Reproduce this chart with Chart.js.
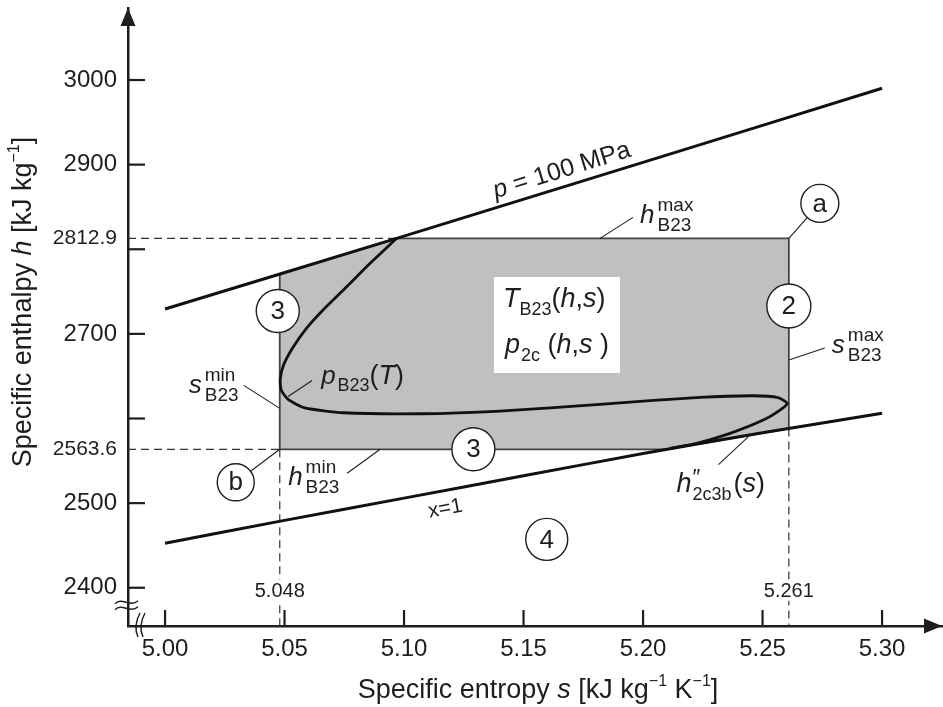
<!DOCTYPE html>
<html><head><meta charset="utf-8">
<script src="https://cdn.jsdelivr.net/npm/chart.js@4.4.1/dist/chart.umd.min.js"></script>
<style>html,body{margin:0;padding:0;background:#fff;}canvas{display:block;}</style>
</head><body>
<canvas id="c" width="943" height="707"></canvas>
<script>
// ---------- data ----------
const sAxisRange = [4.9845, 5.3255];
const hAxisRange = [2354.8, 3085.1];
const sTicks = [5.00, 5.05, 5.10, 5.15, 5.20, 5.25, 5.30];
const sTickLabels = ['5.00', '5.05', '5.10', '5.15', '5.20', '5.25', '5.30'];
const hTicks = [2400, 2500, 2563.6, 2600, 2700, 2800, 2812.9, 2900, 3000];
const hTickLabels = ['2400', '2500', '2563.6', '', '2700', '', '2812.9', '2900', '3000'];
const hSpecialTicks = [2563.6, 2812.9];
const hTickMarks = [2400, 2500, 2600, 2700, 2800, 2900, 3000];

const sMinB23 = 5.048, sMaxB23 = 5.261, hMinB23 = 2563.6, hMaxB23 = 2812.9;

// isobar p = 100 MPa
const p100S = [5.00, 5.0969, 5.20, 5.30];
const p100H = [2729.4, 2812.9, 2902.6, 2990.2];
// saturated vapour line x = 1
const x1S = [5.00, 5.05, 5.10, 5.15, 5.20, 5.25, 5.30];
const x1H = [2452.5, 2479.6, 2505.9, 2532.3, 2558.6, 2583.2, 2606.1];
// B23 boundary p_B23(T)
const b23S = [5.0969, 5.0858, 5.0760, 5.0662, 5.0590, 5.0535, 5.0497, 5.0482, 5.0486, 5.0515, 5.0585, 5.0746,
              5.1067, 5.1402, 5.1820, 5.2238, 5.2460, 5.2565, 5.2603, 5.2573, 5.2503, 5.2364, 5.2225, 5.2113];
const b23H = [2812.9, 2783.4, 2755.7, 2728.5, 2706.0, 2684.0, 2664.0, 2646.5, 2633.6, 2622.5, 2612.6, 2606.8,
              2605.6, 2608.8, 2616.8, 2625.0, 2626.9, 2624.8, 2617.9, 2610.0, 2598.2, 2582.5, 2570.7, 2564.8];
// shaded validity region of T_B23(h,s), p_2c(h,s)
const regionS = [5.048, 5.048, 5.0969, 5.261, 5.261, 5.2102, 5.048];
const regionH = [2563.6, 2770.8, 2812.9, 2812.9, 2588.2, 2563.6, 2563.6];
// dashed guide lines
const dashTopS = [sAxisRange[0], 5.0969], dashTopH = [hMaxB23, hMaxB23];
const dashBotS = [sAxisRange[0], sMinB23], dashBotH = [hMinB23, hMinB23];
const dashLeftS = [sMinB23, sMinB23], dashLeftH = [hMinB23, hAxisRange[0]];
const dashRightS = [sMaxB23, sMaxB23], dashRightH = [2588.2, hAxisRange[0]];

// ---------- helpers ----------
const pts = (S, H) => S.map((s, i) => ({x: s, y: H[i]}));
const line = (data, o) => Object.assign({data, showLine: true, pointRadius: 0, pointHoverRadius: 0,
  fill: false, tension: 0, borderColor: '#111', borderWidth: 3}, o);
const FAM = '"Liberation Sans", Arial, Helvetica, sans-serif';
const F = (sz, it) => (it ? 'italic ' : '') + sz + 'px ' + FAM;

function rich(ctx, parts, x, y, align) {
  const w = parts.map(p => {
    if (p.sup !== undefined) {
      ctx.font = F(p.supSz || p.sz || 19); const a = ctx.measureText(p.sup).width;
      ctx.font = F(p.sz || 19); const b = ctx.measureText(p.sub).width;
      return Math.max(a, b) + (p.gap || 0);
    }
    ctx.font = F(p.sz || 26, p.i); return ctx.measureText(p.t).width + (p.gap || 0);
  });
  const total = w.reduce((a, b) => a + b, 0);
  let cx = align === 'center' ? x - total / 2 : (align === 'right' ? x - total : x);
  ctx.textAlign = 'left'; ctx.textBaseline = 'alphabetic';
  parts.forEach((p, k) => {
    if (p.sup !== undefined) {
      ctx.font = F(p.supSz || p.sz || 19); ctx.fillText(p.sup, cx, y + (p.up ?? -12));
      ctx.font = F(p.sz || 19); ctx.fillText(p.sub, cx, y + (p.dn ?? 8));
    } else {
      ctx.font = F(p.sz || 26, p.i); ctx.fillText(p.t, cx, y + (p.dy || 0));
    }
    cx += w[k];
  });
}

// annotation anchors (data coordinates) with pixel offsets
const circles = [
  {lab: 'a', s: sMaxB23, h: hMaxB23, dx: 31, dy: -35, r: 19, leader: true},
  {lab: 'b', s: sMinB23, h: hMinB23, dx: -44, dy: 33, r: 18.5, leader: true},
  {lab: '3', s: sMinB23, h: 2727, dx: -2, dy: 0, r: 21.5},
  {lab: '2', s: sMaxB23, h: 2733, dx: 0, dy: 0, r: 22},
  {lab: '3', s: 5.129, h: hMinB23, dx: 0, dy: 0, r: 21.5},
  {lab: '4', s: 5.1597, h: 2457.2, dx: 0, dy: 0, r: 21}
];
const notes = [
  {s: sMinB23, h: 2612, lx: -36, ly: -23, tx: -91, ty: -15,
   parts: [{t: 's', i: true, gap: 3}, {sup: 'min', sub: 'B23'}]},
  {s: sMaxB23, h: 2669.1, lx: 36, ly: -12, tx: 43, ty: -7,
   parts: [{t: 's', i: true, gap: 3}, {sup: 'max', sub: 'B23'}]},
  {s: 5.182, h: hMaxB23, lx: 33, ly: -21, tx: 40, ty: -15,
   parts: [{t: 'h', i: true, gap: 3}, {sup: 'max', sub: 'B23'}]},
  {s: 5.09, h: hMinB23, lx: -33, ly: 24, tx: -92, ty: 36,
   parts: [{t: 'h', i: true, gap: 3}, {sup: 'min', sub: 'B23'}]},
  {s: 5.0515, h: 2626, lx: 24, ly: -16, tx: 33, ty: -13,
   parts: [{t: 'p', i: true, gap: 2}, {t: 'B23', sz: 18, dy: 7}, {t: '(', sz: 27}, {t: 'T', i: true, sz: 27}, {t: ')', sz: 27}]},
  {s: 5.2441, h: 2578.5, lx: -30, ly: 28, tx: -72, ty: 55,
   parts: [{t: 'h', i: true, sz: 27, gap: 1}, {sup: '\u2033', supSz: 22, up: -8, sub: '2c3b', sz: 18, dn: 8, gap: 2},
           {t: '(', sz: 27}, {t: 's', i: true, sz: 27}, {t: ')', sz: 27}]}
];

const deco = {
  id: 'deco',
  afterDraw(chart) {
    const ctx = chart.ctx, xs = chart.scales.x, ys = chart.scales.y, ca = chart.chartArea;
    const X = v => xs.getPixelForValue(v), Y = v => ys.getPixelForValue(v);
    const ink = '#1e1e1e';
    ctx.save();
    ctx.strokeStyle = ink; ctx.fillStyle = ink; ctx.lineCap = 'butt';
    // inside tick marks
    ctx.lineWidth = 2.2;
    hTickMarks.forEach(v => { ctx.beginPath(); ctx.moveTo(ca.left, Y(v)); ctx.lineTo(ca.left + 17, Y(v)); ctx.stroke(); });
    sTicks.forEach(v => { ctx.beginPath(); ctx.moveTo(X(v), ca.bottom); ctx.lineTo(X(v), ca.bottom - 16); ctx.stroke(); });
    // arrowheads
    ctx.beginPath(); ctx.moveTo(ca.left, ca.top); ctx.lineTo(ca.left - 7.5, ca.top + 18); ctx.lineTo(ca.left + 7.5, ca.top + 18); ctx.closePath(); ctx.fill();
    ctx.beginPath(); ctx.moveTo(ca.right - 1, ca.bottom); ctx.lineTo(ca.right - 19, ca.bottom - 7.5); ctx.lineTo(ca.right - 19, ca.bottom + 7.5); ctx.closePath(); ctx.fill();
    // axis break marks
    ctx.lineWidth = 1.4;
    const yb = Y(2400) + 14;
    for (let k = 0; k < 2; k++) {
      const y0 = yb + k * 6;
      ctx.beginPath(); ctx.moveTo(ca.left - 13, y0 + 2);
      ctx.bezierCurveTo(ca.left - 6, y0 - 5, ca.left + 2, y0 + 6, ca.left + 10, y0 - 1); ctx.stroke();
    }
    for (let k = 0; k < 2; k++) {
      const x0 = ca.left + 9 + k * 5;
      ctx.beginPath(); ctx.moveTo(x0 + 3, ca.bottom - 13);
      ctx.quadraticCurveTo(x0 - 4, ca.bottom, x0 + 1, ca.bottom + 11); ctx.stroke();
    }
    // special s labels on the dashed verticals
    [[sMinB23, '5.048'], [sMaxB23, '5.261']].forEach(([v, t]) => {
      ctx.font = F(20); const w = ctx.measureText(t).width;
      const yy = Y(2400) + 9;
      ctx.fillStyle = '#fff'; ctx.fillRect(X(v) - w / 2 - 1, yy - 17, w + 2, 21);
      ctx.fillStyle = ink; ctx.textAlign = 'center'; ctx.textBaseline = 'alphabetic'; ctx.fillText(t, X(v), yy);
    });
    // white box with function names
    {
      const cx = X(5.164), cy = Y(2710.5);
      ctx.fillStyle = '#fff'; ctx.fillRect(cx - 63, cy - 48, 126, 96);
      ctx.fillStyle = ink;
      rich(ctx, [{t: 'T', i: true, sz: 27}, {t: 'B23', sz: 18, dy: 8}, {t: '(', sz: 27}, {t: 'h', i: true, sz: 27}, {t: ',', sz: 27}, {t: 's', i: true, sz: 27}, {t: ')', sz: 27}], cx - 54, cy - 18);
      rich(ctx, [{t: 'p', i: true, sz: 27, gap: 1}, {t: '2c', sz: 18, dy: 8}, {t: ' (', sz: 27}, {t: 'h', i: true, sz: 27}, {t: ',', sz: 27}, {t: 's', i: true, sz: 27}, {t: ' )', sz: 27}], cx - 52, cy + 28);
    }
    // leaders + labels
    ctx.lineWidth = 1.1; ctx.strokeStyle = ink; ctx.fillStyle = ink;
    notes.forEach(n => {
      const ax = X(n.s), ay = Y(n.h);
      ctx.beginPath(); ctx.moveTo(ax, ay); ctx.lineTo(ax + n.lx, ay + n.ly); ctx.stroke();
      rich(ctx, n.parts, ax + n.tx, ay + n.ty, 'left');
    });
    // circled region numbers / points
    circles.forEach(c => {
      const ax = X(c.s), ay = Y(c.h), cx = ax + c.dx, cy = ay + c.dy;
      if (c.leader) {
        const d = Math.hypot(c.dx, c.dy), f = (d - c.r) / d;
        ctx.lineWidth = 1.1; ctx.beginPath(); ctx.moveTo(ax, ay); ctx.lineTo(ax + c.dx * f, ay + c.dy * f); ctx.stroke();
      }
      ctx.beginPath(); ctx.arc(cx, cy, c.r, 0, Math.PI * 2);
      ctx.fillStyle = '#fff'; ctx.fill(); ctx.lineWidth = 1.4; ctx.strokeStyle = ink; ctx.stroke();
      ctx.fillStyle = ink; ctx.font = F(26); ctx.textAlign = 'center'; ctx.textBaseline = 'middle';
      ctx.fillText(c.lab, cx, cy + 1);
    });
    // curve labels rotated along lines
    {
      const a = Math.atan2(Y(p100H[3]) - Y(p100H[1]), X(p100S[3]) - X(p100S[1]));
      const s = 5.168, h = p100H[1] + (s - p100S[1]) * (p100H[3] - p100H[1]) / (p100S[3] - p100S[1]);
      ctx.save(); ctx.translate(X(s), Y(h)); ctx.rotate(a);
      rich(ctx, [{t: 'p', i: true, sz: 25}, {t: ' = 100 MPa', sz: 25}], 0, -9, 'center'); ctx.restore();
    }
    {
      const a = Math.atan2(Y(x1H[3]) - Y(x1H[1]), X(x1S[3]) - X(x1S[1]));
      ctx.save(); ctx.translate(X(5.1159), Y(2514.3)); ctx.rotate(a);
      rich(ctx, [{t: 'x=1', sz: 21}], 0, 24, 'center'); ctx.restore();
    }
    // axis titles
    ctx.fillStyle = ink;
    ctx.save(); ctx.translate(31, 302); ctx.rotate(-Math.PI / 2);
    rich(ctx, [{t: 'Specific enthalpy ', sz: 27}, {t: 'h', i: true, sz: 27}, {t: ' [kJ kg', sz: 27}, {t: '\u22121', sz: 16, dy: -12}, {t: ']', sz: 27}], 0, 0, 'center');
    ctx.restore();
    rich(ctx, [{t: 'Specific entropy ', sz: 27}, {t: 's', i: true, sz: 27}, {t: ' [kJ kg', sz: 27}, {t: '\u22121', sz: 16, dy: -12}, {t: ' K', sz: 27}, {t: '\u22121', sz: 16, dy: -12}, {t: ']', sz: 27}], 538, 698, 'center');
    ctx.restore();
  }
};

const dashStyle = {borderWidth: 1.2, borderDash: [8, 5], borderColor: '#333', order: 2};

new Chart(document.getElementById('c'), {
  type: 'scatter',
  data: {
    datasets: [
      line(pts(b23S, b23H), {tension: 0.2, borderWidth: 2.8, order: 0}),
      line(pts(p100S, p100H), {tension: 0.2, order: 0}),
      line(pts(x1S, x1H), {tension: 0.2, order: 0}),
      line(pts(dashTopS, dashTopH), dashStyle),
      line(pts(dashBotS, dashBotH), dashStyle),
      line(pts(dashLeftS, dashLeftH), dashStyle),
      line(pts(dashRightS, dashRightH), dashStyle),
      line(pts(regionS, regionH), {fill: 'shape', backgroundColor: '#c0c0c0', borderColor: '#444', borderWidth: 1.8, order: 5})
    ]
  },
  options: {
    responsive: false, animation: false, devicePixelRatio: 1, events: [],
    layout: {padding: {top: 8, right: 0, bottom: 0, left: 0}},
    plugins: {legend: {display: false}, tooltip: {enabled: false}, title: {display: false}},
    scales: {
      x: {
        type: 'linear', min: sAxisRange[0], max: sAxisRange[1],
        afterBuildTicks: sc => { sc.ticks = sTicks.map(v => ({value: v})); },
        afterFit: sc => { sc.height = 81; sc.paddingLeft = 0; sc.paddingRight = 0; },
        grid: {display: false, drawTicks: false},
        border: {display: true, color: '#1e1e1e', width: 2.5},
        ticks: {autoSkip: false, maxRotation: 0, minRotation: 0, padding: 9, color: '#1e1e1e',
          font: {family: FAM, size: 24}, callback: (v, i) => sTickLabels[i]}
      },
      y: {
        type: 'linear', min: hAxisRange[0], max: hAxisRange[1],
        afterBuildTicks: sc => { sc.ticks = hTicks.map(v => ({value: v})); },
        afterFit: sc => { sc.width = 128; sc.paddingTop = 0; sc.paddingBottom = 0; },
        grid: {display: false, drawTicks: false},
        border: {display: true, color: '#1e1e1e', width: 2.5},
        ticks: {autoSkip: false, padding: 11, color: '#1e1e1e',
          font: ctx => ({family: FAM, size: (ctx.tick && hSpecialTicks.includes(ctx.tick.value)) ? 21 : 24}),
          callback: (v, i) => hTickLabels[i]}
      }
    }
  },
  plugins: [deco]
});
</script>
</body></html>
